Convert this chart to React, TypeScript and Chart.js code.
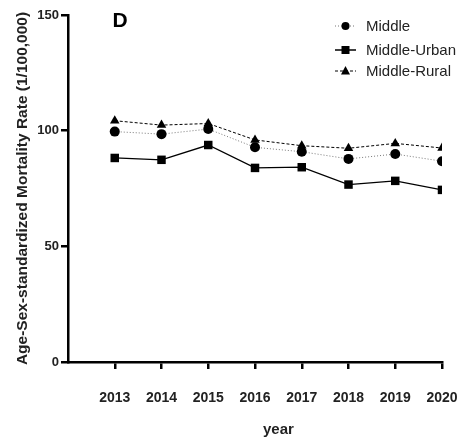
import React, { useEffect, useRef } from "react";
import { Chart, registerables } from "chart.js";

Chart.register(...registerables);

const years = [2013, 2014, 2015, 2016, 2017, 2018, 2019, 2020];
const middle = [99.6, 98.5, 100.7, 92.8, 90.9, 87.8, 89.9, 86.8];
const middleUrban = [88.2, 87.4, 93.8, 83.9, 84.2, 76.7, 78.3, 74.4];
const middleRural = [104.3, 102.4, 103.1, 96.0, 93.5, 92.4, 94.5, 92.5];
const yTicks = [0, 50, 100, 150];
const seriesNames = ["Middle", "Middle-Urban", "Middle-Rural"];
const xTitle = "year";

const FONT = "'Liberation Sans', Arial, sans-serif";

const legendPlugin = {
  id: "customLegend",
  afterDraw(chart: any) {
    const ctx = chart.ctx as CanvasRenderingContext2D;
    ctx.save();
    ctx.fillStyle = "#000";
    ctx.font = `bold 21px ${FONT}`;
    ctx.textAlign = "center";
    ctx.textBaseline = "middle";
    ctx.fillText("D", 120, 21);

    // x-axis title centred under the labelled years
    const xs = chart.scales.x;
    const cx = (xs.getPixelForValue(years[0]) + xs.getPixelForValue(years[years.length - 1])) / 2;
    ctx.fillStyle = "#222";
    ctx.font = `bold 15px ${FONT}`;
    ctx.fillText(xTitle, cx, 430);

    const rows = [
      { y: 26, dash: [1, 2], width: 1, color: "#777", shape: "circle" },
      { y: 50, dash: [], width: 1.5, color: "#000", shape: "rect" },
      { y: 71, dash: [3, 2], width: 1, color: "#000", shape: "tri" },
    ];
    rows.forEach((r, i) => {
      ctx.strokeStyle = r.color;
      ctx.lineWidth = r.width;
      ctx.setLineDash(r.dash);
      ctx.beginPath();
      ctx.moveTo(335, r.y);
      ctx.lineTo(356, r.y);
      ctx.stroke();
      ctx.setLineDash([]);
      ctx.fillStyle = "#000";
      ctx.beginPath();
      if (r.shape === "circle") {
        ctx.arc(345.5, r.y, 4, 0, Math.PI * 2);
      } else if (r.shape === "rect") {
        ctx.rect(341.5, r.y - 4, 8, 8);
      } else {
        ctx.moveTo(345.5, r.y - 5);
        ctx.lineTo(350, r.y + 3.5);
        ctx.lineTo(341, r.y + 3.5);
        ctx.closePath();
      }
      ctx.fill();
      ctx.fillStyle = "#222";
      ctx.font = `15px ${FONT}`;
      ctx.textAlign = "left";
      ctx.textBaseline = "middle";
      ctx.fillText(seriesNames[i], 366, r.y + 1);
    });
    ctx.restore();
  },
};

export default function App() {
  const ref = useRef<HTMLCanvasElement | null>(null);
  useEffect(() => {
    if (!ref.current) return;
    const toPts = (arr: number[]) => years.map((x, i) => ({ x, y: arr[i] }));
    const chart = new Chart(ref.current, {
      type: "line",
      data: {
        datasets: [
          {
            label: seriesNames[0],
            data: toPts(middle),
            borderColor: "#777",
            borderWidth: 1,
            borderDash: [1, 2],
            pointStyle: "circle",
            pointRadius: 5,
            pointBackgroundColor: "#000",
            pointBorderColor: "#000",
            pointBorderWidth: 0,
          },
          {
            label: seriesNames[1],
            data: toPts(middleUrban),
            borderColor: "#000",
            borderWidth: 1.3,
            pointStyle: "rect",
            pointRadius: 6,
            pointBackgroundColor: "#000",
            pointBorderColor: "#000",
            pointBorderWidth: 0,
          },
          {
            label: seriesNames[2],
            data: toPts(middleRural),
            borderColor: "#000",
            borderWidth: 1,
            borderDash: [3, 2],
            pointStyle: "triangle",
            pointRadius: 5.5,
            pointBackgroundColor: "#000",
            pointBorderColor: "#000",
            pointBorderWidth: 0,
          },
        ],
      },
      options: {
        responsive: false,
        animation: false,
        layout: { padding: { top: 15, right: 18, left: 0, bottom: 0 } },
        plugins: { legend: { display: false }, tooltip: { enabled: false } },
        scales: {
          x: {
            type: "linear",
            min: 2012,
            max: 2020,
            afterBuildTicks(scale: any) {
              scale.ticks = years.map((v) => ({ value: v }));
            },
            afterFit(scale: any) {
              scale.height = 82;
              scale.paddingLeft = 0;
              scale.paddingRight = 0;
            },
            ticks: {
              stepSize: 1,
              color: "#222",
              font: { family: FONT, size: 14, weight: "bold" },
              padding: 21,
              maxRotation: 0,
              callback: (v: any) => String(v),
            },
            grid: {
              drawOnChartArea: false,
              drawTicks: true,
              tickLength: 7,
              color: "#000",
              lineWidth: 2.5,
            },
            border: { display: true, color: "#000", width: 2.5 },
            title: { display: false },
          },
          y: {
            type: "linear",
            min: 0,
            max: 150,
            afterBuildTicks(scale: any) {
              scale.ticks = yTicks.map((v) => ({ value: v }));
            },
            afterFit(scale: any) {
              scale.width = 68;
              scale.paddingTop = 0;
              scale.paddingBottom = 0;
            },
            ticks: {
              color: "#222",
              font: { family: FONT, size: 13, weight: "bold" },
              padding: 2,
            },
            grid: {
              drawOnChartArea: false,
              drawTicks: true,
              tickLength: 7,
              color: "#000",
              lineWidth: 2.5,
            },
            border: { display: true, color: "#000", width: 2.5 },
            title: {
              display: true,
              text: "Age-Sex-standardized Mortality Rate (1/100,000)",
              color: "#222",
              font: { family: FONT, size: 15.5, weight: "bold" },
              padding: { top: 13, bottom: 0 },
            },
          },
        },
      },
      plugins: [legendPlugin],
    } as any);
    return () => chart.destroy();
  }, []);
  return (
    <div style={{ position: "absolute", left: 0, top: 0, width: 460, height: 444, background: "#fff" }}>
      <canvas ref={ref} width={460} height={444} />
    </div>
  );
}
